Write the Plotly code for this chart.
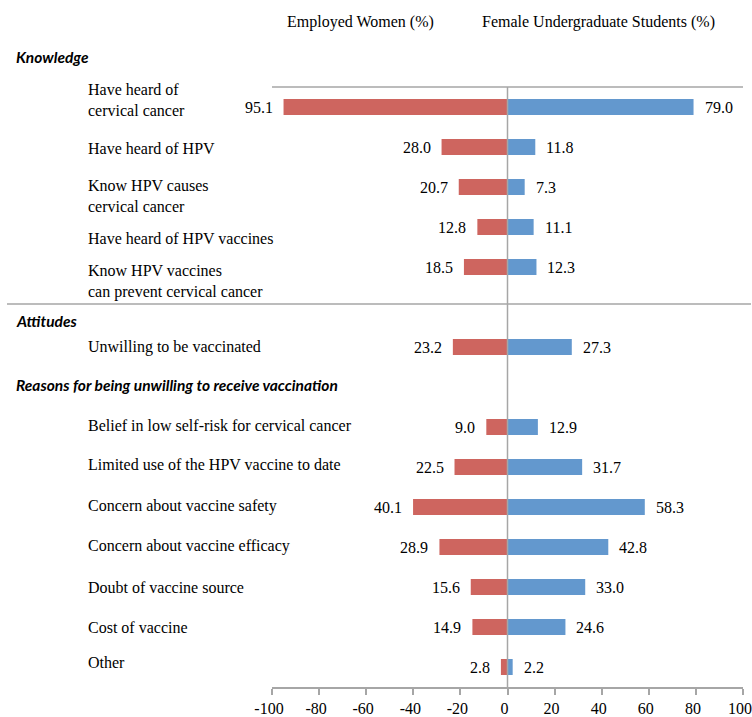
import plotly.graph_objects as go

# ---------------- data ----------------
categories = [
    "Have heard of<br>cervical cancer",
    "Have heard of HPV",
    "Know HPV causes<br>cervical cancer",
    "Have heard of HPV vaccines",
    "Know HPV vaccines<br>can prevent cervical cancer",
    "Unwilling to be vaccinated",
    "Belief in low self-risk for cervical cancer",
    "Limited use of the HPV vaccine to date",
    "Concern about vaccine safety",
    "Concern about vaccine efficacy",
    "Doubt of vaccine source",
    "Cost of vaccine",
    "Other",
]
employed_women = [95.1, 28.0, 20.7, 12.8, 18.5, 23.2, 9.0, 22.5, 40.1, 28.9, 15.6, 14.9, 2.8]
female_students = [79.0, 11.8, 7.3, 11.1, 12.3, 27.3, 12.9, 31.7, 58.3, 42.8, 33.0, 24.6, 2.2]
series_names = ["Employed Women (%)", "Female Undergraduate Students (%)"]
section_titles = ["Knowledge", "Attitudes", "Reasons for being unwilling to receive vaccination"]
x_ticks = [-100, -80, -60, -40, -20, 0, 20, 40, 60, 80, 100]

# ---------------- layout helpers ----------------
W, H = 752, 717
L, R, T, B = 272, 9, 87, 30
row_slots = [0, 1, 2, 3, 4, 6, 8, 9, 10, 11, 12, 13, 14]          # slot of each bar row
label_px = [100, 148, 196, 238, 281, 347, 426, 464, 506, 546, 587, 627, 662]  # label centres (px)
section_px = [57, 321, 385]

def px_x(px):
    return (px - L) / (W - L - R)

def px_y(py):
    return (H - B - py) / (H - T - B)

RED = "#CE655F"
BLUE = "#6398CE"
GREY = "#A6A6A6"
SERIF = "Liberation Serif, Times New Roman, serif"
FS = 16

fig = go.Figure()
fig.add_trace(go.Bar(
    y=row_slots, x=[-v for v in employed_women], orientation="h",
    marker=dict(color=RED, line=dict(width=0)), width=0.4, name=series_names[0],
    showlegend=False, hoverinfo="skip"))
fig.add_trace(go.Bar(
    y=row_slots, x=female_students, orientation="h",
    marker=dict(color=BLUE, line=dict(width=0)), width=0.4, name=series_names[1],
    showlegend=False, hoverinfo="skip"))

annotations = []
for ys, w, s in zip(row_slots, employed_women, female_students):
    annotations.append(dict(x=-w, y=ys, xref="x", yref="y", text=f"{w:.1f}", showarrow=False,
                            xanchor="right", xshift=-9, font=dict(family=SERIF, size=FS, color="black")))
    annotations.append(dict(x=s, y=ys, xref="x", yref="y", text=f"{s:.1f}", showarrow=False,
                            xanchor="left", xshift=9, font=dict(family=SERIF, size=FS, color="black")))

for txt, py in zip(categories, label_px):
    annotations.append(dict(x=px_x(86), y=px_y(py), xref="paper", yref="paper", text=txt,
                            showarrow=False, xanchor="left", yanchor="middle", align="left",
                            font=dict(family=SERIF, size=FS, color="black")))

for txt, py in zip(section_titles, section_px):
    annotations.append(dict(x=px_x(14), y=px_y(py), xref="paper", yref="paper",
                            text=f"<b><i>{txt}</i></b>", showarrow=False,
                            xanchor="left", yanchor="middle",
                            font=dict(family="Lato, Open Sans, sans-serif", size=15.5, color="black")))

for txt, cx in zip(series_names, [360, 598]):
    annotations.append(dict(x=px_x(cx), y=px_y(22), xref="paper", yref="paper",
                            text=txt, showarrow=False, xanchor="center", yanchor="middle",
                            font=dict(family=SERIF, size=FS, color="black")))

shapes = [
    dict(type="line", xref="paper", yref="paper", x0=0, x1=1, y0=1, y1=1,
         line=dict(color=GREY, width=1.5)),
    dict(type="line", xref="paper", yref="paper", x0=px_x(7), x1=px_x(751),
         y0=px_y(304), y1=px_y(304), line=dict(color=GREY, width=1.5)),
    dict(type="line", xref="x", yref="paper", x0=0, x1=0, y0=0, y1=1,
         line=dict(color=GREY, width=1.5)),
]

fig.update_layout(
    width=W, height=H,
    margin=dict(l=L, r=R, t=T, b=B, autoexpand=False),
    paper_bgcolor="white", plot_bgcolor="white",
    barmode="overlay",
    annotations=annotations,
    shapes=shapes,
    xaxis=dict(range=[-100, 100], tickvals=x_ticks, ticktext=[str(v) for v in x_ticks],
               showgrid=False, zeroline=False, showline=True, linecolor=GREY, linewidth=1.5,
               ticks="outside", ticklen=6, tickcolor=GREY, tickwidth=1.5,
               ticklabelstandoff=0, ticklabelshift=-3, ticklabeloverflow="allow", automargin=False,
               tickfont=dict(family=SERIF, size=FS, color="black"), fixedrange=True),
    yaxis=dict(range=[14.5, -0.5], showgrid=False, zeroline=False, showline=False,
               showticklabels=False, ticks="", fixedrange=True, automargin=False),
)

fig.write_html("out.html", config={"displayModeBar": False},
               post_script="document.body.style.margin='0';document.body.style.overflow='hidden';")
